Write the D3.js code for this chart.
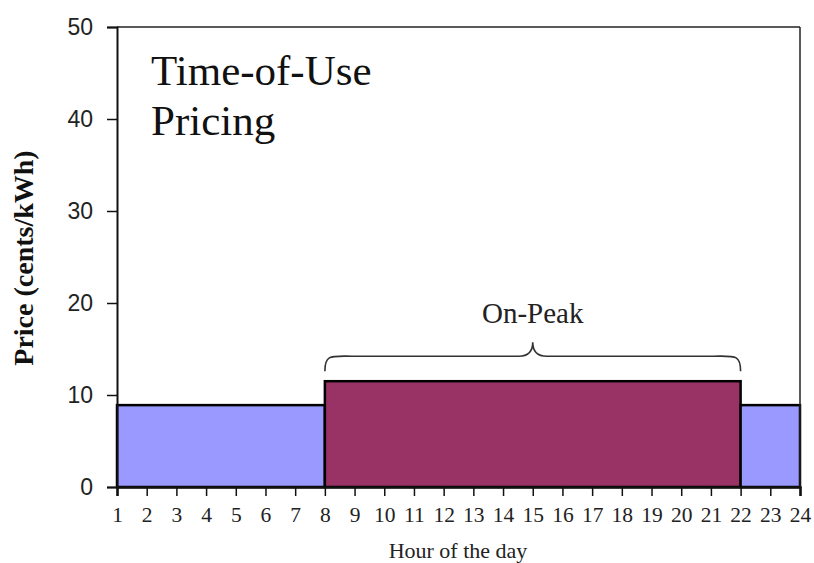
<!DOCTYPE html>
<html>
<head>
<meta charset="utf-8">
<script src="https://cdn.jsdelivr.net/npm/d3@7"></script>
<style>
  html, body { margin: 0; padding: 0; background: #fff; }
  svg { display: block; }
</style>
</head>
<body>
<svg id="chart" width="814" height="563"></svg>
<script>
// Tariff periods: start hour, end hour, price (cents/kWh)
const periodStarts = [1, 8, 22];
const periodEnds = [8, 22, 24];
const periodPrices = [8.9, 11.5, 8.9];
const periodNames = ["Off-Peak", "On-Peak", "Off-Peak"];
const periodColors = ["#9999ff", "#993366", "#9999ff"];

const hourTicks = d3.range(1, 25);
const priceTicks = [0, 10, 20, 30, 40, 50];
const titleLines = ["Time-of-Use", "Pricing"];

const W = 814, H = 563;
const margin = { left: 117, right: 14, top: 27, bottom: 76 };
const svg = d3.select("#chart");

const x = d3.scaleLinear().domain([1, 24]).range([margin.left, W - margin.right]);
const y = d3.scaleLinear().domain([0, 50]).range([H - margin.bottom, margin.top]);

// Bars for each tariff period
svg.append("g").selectAll("rect")
  .data(periodStarts.map((s, i) => ({ s, e: periodEnds[i], v: periodPrices[i], c: periodColors[i] })))
  .join("rect")
  .attr("x", d => x(d.s))
  .attr("y", d => y(d.v))
  .attr("width", d => x(d.e) - x(d.s))
  .attr("height", d => y(0) - y(d.v))
  .attr("fill", d => d.c)
  .attr("stroke", "#000")
  .attr("stroke-width", 2.5);

// Frame: top and right edges
svg.append("line")
  .attr("x1", x(1)).attr("x2", x(24)).attr("y1", y(50)).attr("y2", y(50))
  .attr("stroke", "#222").attr("stroke-width", 1.5);
svg.append("line")
  .attr("x1", x(24)).attr("x2", x(24)).attr("y1", y(50)).attr("y2", y(0))
  .attr("stroke", "#222").attr("stroke-width", 1.5);

// Y axis
const yAxis = svg.append("g")
  .attr("transform", `translate(${x(1)},0)`)
  .call(d3.axisLeft(y).tickValues(priceTicks).tickSize(10).tickPadding(14));
yAxis.select(".domain").attr("stroke", "#111").attr("stroke-width", 2);
yAxis.selectAll(".tick line").attr("stroke", "#111").attr("stroke-width", 1.5);
yAxis.selectAll(".tick text")
  .attr("font-family", "'Liberation Sans', Arial, sans-serif")
  .attr("font-size", 23)
  .attr("fill", "#222");

// X axis
const xAxis = svg.append("g")
  .attr("transform", `translate(0,${y(0)})`)
  .call(d3.axisBottom(x).tickValues(hourTicks).tickSize(9).tickPadding(11));
xAxis.select(".domain").attr("stroke", "#111").attr("stroke-width", 2.5);
xAxis.selectAll(".tick line").attr("stroke", "#111").attr("stroke-width", 1.5);
xAxis.selectAll(".tick text")
  .attr("font-family", "'Liberation Serif', 'Times New Roman', serif")
  .attr("font-size", 21.5)
  .attr("fill", "#222");

// Axis titles
svg.append("text")
  .attr("x", 458)
  .attr("y", 558)
  .attr("text-anchor", "middle")
  .attr("font-family", "'Liberation Serif', 'Times New Roman', serif")
  .attr("font-size", 22)
  .attr("fill", "#222")
  .text("Hour of the day");

svg.append("text")
  .attr("transform", "translate(33,258) rotate(-90)")
  .attr("text-anchor", "middle")
  .attr("font-family", "'Liberation Serif', 'Times New Roman', serif")
  .attr("font-weight", "bold")
  .attr("font-size", 28)
  .attr("fill", "#111")
  .text("Price (cents/kWh)");

// Chart title inside plot
svg.append("text")
  .attr("font-family", "'Liberation Serif', 'Times New Roman', serif")
  .attr("font-size", 43)
  .attr("fill", "#111")
  .selectAll("tspan")
  .data(titleLines)
  .join("tspan")
  .attr("x", 151)
  .attr("y", (d, i) => 85 + i * 50)
  .text(d => d);

// Curly brace over the on-peak period
const pk = 1;
const bx0 = x(periodStarts[pk]), bx1 = x(periodEnds[pk]);
const bm = (bx0 + bx1) / 2;
const yEnd = y(periodPrices[pk]) - 10;
const yMid = yEnd - 15;
const yTip = yMid - 14;
const r = 18;
const brace = d3.path();
brace.moveTo(bx0, yEnd);
brace.bezierCurveTo(bx0, yMid - 2, bx0 + 6, yMid, bx0 + r * 1.5, yMid);
brace.lineTo(bm - 14, yMid);
brace.quadraticCurveTo(bm, yMid, bm, yTip);
brace.quadraticCurveTo(bm, yMid, bm + 14, yMid);
brace.lineTo(bx1 - r * 1.5, yMid);
brace.bezierCurveTo(bx1 - 6, yMid, bx1, yMid - 2, bx1, yEnd);
svg.append("path")
  .attr("d", brace.toString())
  .attr("fill", "none")
  .attr("stroke", "#333")
  .attr("stroke-width", 1.6);

svg.append("text")
  .attr("x", bm)
  .attr("y", 323)
  .attr("text-anchor", "middle")
  .attr("font-family", "'Liberation Serif', 'Times New Roman', serif")
  .attr("font-size", 29)
  .attr("fill", "#222")
  .text(periodNames[pk]);
</script>
</body>
</html>
